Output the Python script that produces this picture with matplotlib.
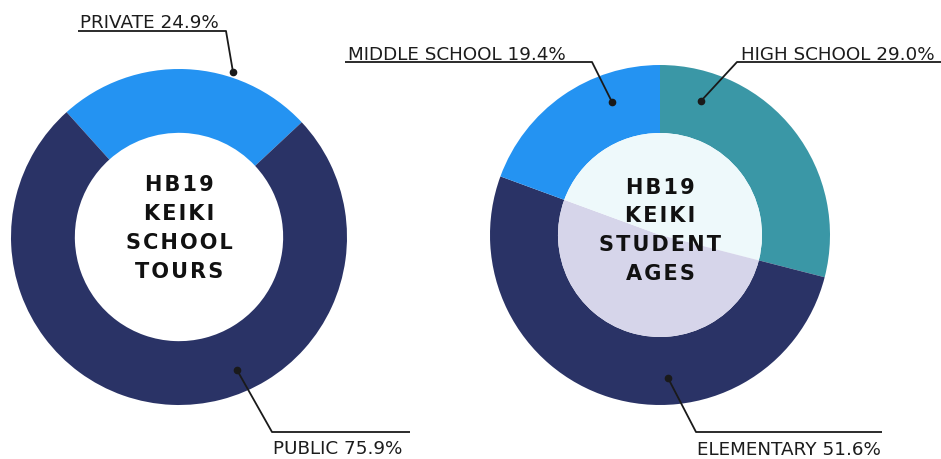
import matplotlib
matplotlib.use("Agg")
import matplotlib.pyplot as plt

# left donut: school tours
tour_labels = ["PRIVATE", "PUBLIC"]
tour_values = [24.9, 75.9]
tour_colors = ["#2493f2", "#2a3366"]

# right donut: student ages (clockwise from top)
age_labels = ["HIGH SCHOOL", "ELEMENTARY", "MIDDLE SCHOOL"]
age_values = [29.0, 51.6, 19.4]
age_colors = ["#3a97a6", "#2a3366", "#2493f2"]
age_inner = ["#eef9fb", "#d6d5ea", "#eef9fb"]

W, H = 941, 459
fig = plt.figure(figsize=(W / 100, H / 100), dpi=100)
fig.patch.set_facecolor("white")


def pie_axes(cx, cy, r):
    return fig.add_axes([(cx - r) / W, (H - cy - r) / H, 2 * r / W, 2 * r / H])


def spaced(s):
    # a little extra tracking between letters
    return "\n".join("\u200a".join(line) for line in s.split("\n"))


label_font = dict(family="DejaVu Sans", fontsize=13.2, color="#1c1c1c")
center_font = dict(family="DejaVu Sans", fontsize=15, fontweight="heavy",
                   color="#111111", ha="center", va="center", linespacing=1.55)

# left chart
ax1 = pie_axes(179, 237, 168)
ax1.pie(tour_values, colors=tour_colors, startangle=132, counterclock=False,
        radius=1.0, wedgeprops=dict(width=0.38, linewidth=0))
ax1.text(0, 0.05, spaced("HB19\nKEIKI\nSCHOOL\nTOURS"), **center_font)
ax1.set_xlim(-1, 1)
ax1.set_ylim(-1, 1)
ax1.axis("off")

# right chart
ax2 = pie_axes(660, 235, 170)
ax2.pie(age_values, colors=age_colors, startangle=90, counterclock=False,
        radius=1.0, wedgeprops=dict(width=0.4, linewidth=0))
ax2.pie(age_values, colors=age_inner, startangle=90, counterclock=False,
        radius=0.6, wedgeprops=dict(linewidth=0))
ax2.text(0, 0.025, spaced("HB19\nKEIKI\nSTUDENT\nAGES"), **center_font)
ax2.set_xlim(-1, 1)
ax2.set_ylim(-1, 1)
ax2.axis("off")

# overlay in pixel coordinates for leader lines and labels
ov = fig.add_axes([0, 0, 1, 1], zorder=5)
ov.set_xlim(0, W)
ov.set_ylim(H, 0)
ov.axis("off")
ov.patch.set_alpha(0)


def leader(pts, dot):
    xs = [p[0] for p in pts]
    ys = [p[1] for p in pts]
    ov.plot(xs, ys, color="#1a1a1a", lw=1.3, solid_capstyle="butt")
    ov.plot(*dot, "o", color="#1a1a1a", ms=4.5)


# PRIVATE
leader([(78, 31), (226, 31), (233, 72)], (233, 72))
ov.text(80, 28.5, f"{tour_labels[0]} {tour_values[0]}%", ha="left", va="baseline", **label_font)
# PUBLIC
leader([(237, 370), (272, 432), (410, 432)], (237, 370))
ov.text(273, 454, f"{tour_labels[1]} {tour_values[1]}%", ha="left", va="baseline", **label_font)
# MIDDLE SCHOOL
leader([(345, 62), (592, 62), (612, 102)], (612, 102))
ov.text(348, 59.5, f"{age_labels[2]} {age_values[2]}%", ha="left", va="baseline", **label_font)
# HIGH SCHOOL
leader([(941, 62), (737, 62), (701, 101)], (701, 101))
ov.text(741, 59.5, f"{age_labels[0]} {age_values[0]}%", ha="left", va="baseline", **label_font)
# ELEMENTARY
leader([(668, 378), (696, 432), (882, 432)], (668, 378))
ov.text(697, 455, f"{age_labels[1]} {age_values[1]}%", ha="left", va="baseline", **label_font)

fig.savefig("out.png", dpi=100, facecolor="white")
